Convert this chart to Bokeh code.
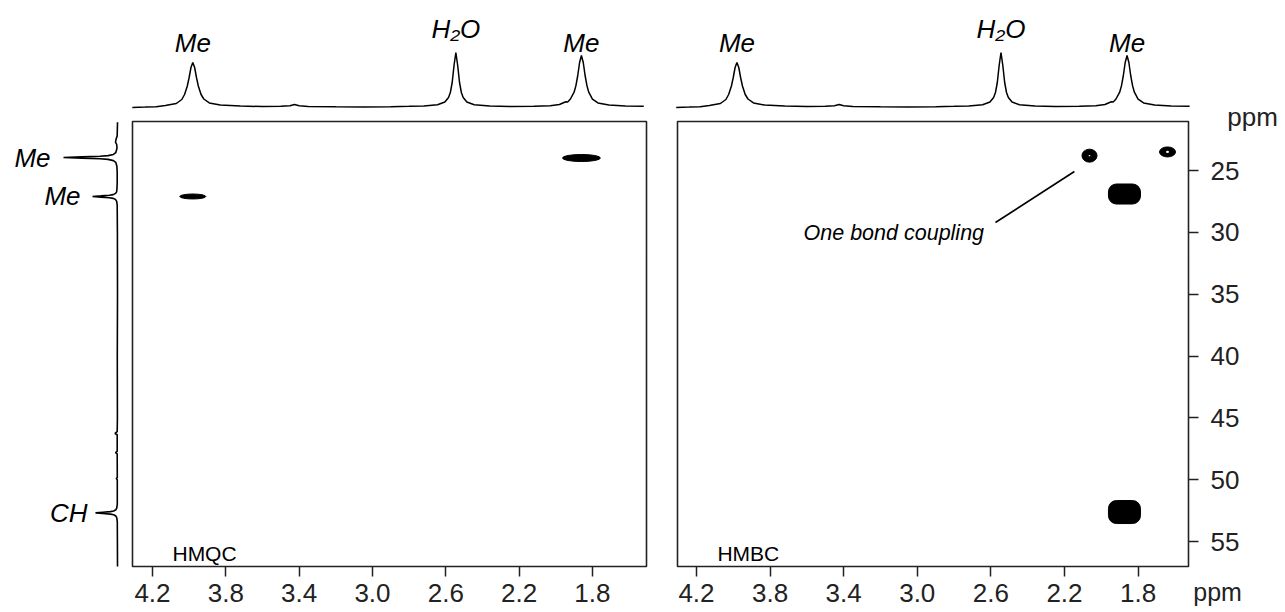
from bokeh.plotting import figure
from bokeh.layouts import row
from bokeh.models import Range1d, FixedTicker, PrintfTickFormatter
from bokeh.core.properties import value
from bokeh.embed import file_html
from bokeh.resources import INLINE

# ---------------- data ----------------
# 1H projection (ppm, intensity)
h_ppm = [4.31, 4.24, 4.18, 4.13, 4.07, 4.04, 4.025, 4.01, 4.00, 3.99, 3.98, 3.97, 3.96, 3.95,
         3.935, 3.92, 3.89, 3.83, 3.72, 3.60, 3.50, 3.45, 3.425, 3.40, 3.35, 3.20, 3.05, 2.90,
         2.80, 2.72, 2.645, 2.605, 2.585, 2.575, 2.565, 2.555, 2.545, 2.535, 2.525, 2.515,
         2.505, 2.485, 2.445, 2.36, 2.25, 2.12, 2.03, 1.98, 1.955, 1.945, 1.935, 1.92, 1.90,
         1.89, 1.88, 1.87, 1.86, 1.85, 1.84, 1.83, 1.82, 1.80, 1.77, 1.71, 1.62, 1.52]
h_int = [-1.0, -0.6, -0.2, 1.0, 3.0, 7.0, 12.0, 20.5, 29.0, 39.0, 44.0, 39.0, 29.0, 20.5,
         12.0, 7.5, 3.6, 1.5, 0.4, 0.0, 0.3, 0.8, 2.0, 0.7, 0.1, -0.3, -0.5, -0.2,
         0.2, 0.6, 1.8, 4.5, 9.0, 14.0, 24.0, 41.0, 54.0, 41.0, 24.0, 14.0,
         9.0, 4.5, 1.8, 0.5, 0.0, 0.2, 0.8, 2.0, 4.0, 4.8, 4.6, 7.5, 14.3,
         20.9, 31.0, 44.0, 51.0, 44.0, 31.0, 20.9, 14.3, 7.4, 3.6, 1.4, 0.5, 0.2]
h_labels = ["Me", "H\u2082O", "Me"]
h_label_ppm = [3.98, 2.545, 1.86]
h_label_int = [64, 78, 64]

# 13C projection (ppm, intensity)
c_ppm = [21.1, 22.2, 22.5, 22.7, 22.9, 23.2, 23.55, 23.7, 23.8, 23.85, 23.9, 23.95, 24.0,
         24.05, 24.1, 24.2, 24.35, 24.65, 25.2, 26.0, 26.4, 26.7, 26.85, 26.95, 27.0, 27.05,
         27.1, 27.15, 27.2, 27.25, 27.35, 27.5, 27.8, 30.0, 35.0, 40.0, 45.0, 46.1, 46.25,
         46.35, 47.7, 47.8, 47.9, 49.8, 49.9, 50.0, 51.97, 52.27, 52.42, 52.52, 52.57, 52.62,
         52.67, 52.72, 52.77, 52.82, 52.92, 53.07, 53.4, 55.0, 57.0]
c_int = [0.0, 0.3, 1.5, 2.0, 0.8, 0.5, 1.7, 4.1, 9.4, 17.5, 35.7, 54.0, 35.7,
         17.5, 9.4, 4.1, 1.7, 0.6, 0.3, 0.3, 0.5, 0.8, 1.9, 4.3, 8.1, 16.5,
         25.0, 16.5, 8.1, 4.3, 1.9, 0.8, 0.3, 0.1, 0.0, 0.2, 0.1, 0.3, 2.5,
         0.3, 0.3, 2.0, 0.3, 0.2, 1.2, 0.2, 0.2, 0.7, 1.7, 3.8, 7.1, 14.6,
         22.0, 14.6, 7.1, 3.8, 1.7, 0.7, 0.2, 0.1, 0.0]
c_labels = ["Me", "Me", "CH"]
c_label_ppm = [23.95, 27.1, 52.67]
c_label_int = [67, 37, 30]

# HMQC cross peaks
hmqc_h = [3.98, 1.86]
hmqc_c = [27.1, 23.99]
hmqc_w = [0.142, 0.207]
hmqc_hg = [0.40, 0.57]

# HMBC cross peaks
hmbc_ring_h = [2.064, 1.64]
hmbc_ring_c = [23.8, 23.5]
hmbc_ring_w = [0.082, 0.087]
hmbc_ring_hg = [1.05, 0.81]
hmbc_hole_w = [0.010, 0.016]
hmbc_hole_hg = [0.11, 0.18]
hmbc_blob_h = [1.874, 1.874]
hmbc_blob_c = [26.9, 52.6]
hmbc_blob_w = [0.174, 0.174]
hmbc_blob_hg = [1.62, 1.86]

x_ticks = [4.2, 3.8, 3.4, 3.0, 2.6, 2.2, 1.8]
y_ticks = [25, 30, 35, 40, 45, 50, 55]

# plot limits (box of each 2D panel)
C_TOP, C_BOT = 21.04, 57.0
QC_LEFT, QC_RIGHT = 4.309, 1.505
BC_LEFT, BC_RIGHT = 4.303, 1.526

# ---------------- layout constants ----------------
H = 610
FONT = value("Liberation Sans")
INK = "#222222"

y_range = Range1d(60.558, 11.2614)
spec_range = {"spec": Range1d(-504, 106)}


def base(p):
    p.outline_line_color = None
    p.grid.visible = False
    p.background_fill_color = "white"
    p.border_fill_color = "white"


def make_fig(width, xr, xaxis, yaxis):
    return figure(width=width, height=H, x_range=xr, y_range=y_range, output_backend="svg",
                  toolbar_location=None,
                  x_axis_location=("below" if xaxis else None),
                  y_axis_location=("right" if yaxis else None),
                  min_border_left=0, min_border_right=0, min_border_top=0, min_border_bottom=0)


def style_xaxis(p):
    ax = p.xaxis[0]
    ax.fixed_location = C_BOT
    ax.ticker = FixedTicker(ticks=x_ticks)
    ax.formatter = PrintfTickFormatter(format="%.1f")
    ax.axis_line_color = None
    ax.major_tick_out = 10
    ax.major_tick_in = 0
    ax.minor_tick_out = 0
    ax.minor_tick_in = 0
    ax.major_tick_line_width = 1.5
    ax.major_tick_line_color = INK
    ax.major_label_standoff = 8
    ax.major_label_text_font = "Liberation Sans"
    ax.major_label_text_font_size = "26px"
    ax.major_label_text_color = INK


# ---- left 13C projection ----
proj = make_fig(130, Range1d(117, -13), False, False)
base(proj)
proj.line(c_int, c_ppm, line_color="black", line_width=1.6)
proj.text(x=c_label_int, y=c_label_ppm, text=c_labels, text_font=FONT, text_font_size=value("26px"),
          text_font_style="italic", text_align="right", text_baseline="middle", text_color="black")


def panel(width, xr, yaxis, left, right):
    p = make_fig(width, xr, True, yaxis)
    p.extra_y_ranges = spec_range
    base(p)
    style_xaxis(p)
    p.line(h_ppm, h_int, y_range_name="spec", line_color="black", line_width=1.5)
    p.text(x=h_label_ppm, y=h_label_int, text=h_labels, y_range_name="spec", text_font=FONT,
           text_font_size=value("26px"), text_font_style="italic", text_align="center",
           text_baseline="middle", text_color="black")
    p.quad(left=[left], right=[right], top=[C_TOP], bottom=[C_BOT], fill_color=None,
           line_color=INK, line_width=1.6)
    return p


hmqc = panel(518, Range1d(4.3199, 1.4941), False, QC_LEFT, QC_RIGHT)
hmqc.ellipse(x=hmqc_h, y=hmqc_c, width=hmqc_w, height=hmqc_hg, fill_color="black", line_color="black")
hmqc.text(x=[4.091], y=[55.96], text=["HMQC"], text_font=FONT, text_font_size=value("21px"),
          text_align="left", text_baseline="middle", text_color="black")

hmbc = panel(635, Range1d(4.4606, 1.0097), True, BC_LEFT, BC_RIGHT)
hmbc.ellipse(x=hmbc_ring_h, y=hmbc_ring_c, width=hmbc_ring_w, height=hmbc_ring_hg,
             fill_color="black", line_color="black")
hmbc.ellipse(x=hmbc_ring_h, y=hmbc_ring_c, width=hmbc_hole_w, height=hmbc_hole_hg,
             fill_color="white", line_color=None)
hmbc.rect(x=hmbc_blob_h, y=hmbc_blob_c, width=hmbc_blob_w, height=hmbc_blob_hg,
          fill_color="black", line_color="black", border_radius=8)
hmbc.segment(x0=[2.575], y0=[29.20], x1=[2.146], y1=[25.08], line_color="black", line_width=1.6)
hmbc.text(x=[3.618], y=[30.09], text=["One bond coupling"], text_font=FONT,
          text_font_size=value("21.5px"), text_font_style="italic", text_align="left",
          text_baseline="middle", text_color="black")
hmbc.text(x=[4.086], y=[55.96], text=["HMBC"], text_font=FONT, text_font_size=value("21px"),
          text_align="left", text_baseline="middle", text_color="black")
# axis unit labels
hmbc.text(x=[1.178], y=[20.636], text=["ppm"], text_font=FONT,
          text_font_size=value("26px"), text_align="center", text_baseline="middle",
          text_color=INK)
hmbc.text(x=[1.368], y=[59.10], text=["ppm"], text_font=FONT,
          text_font_size=value("25px"), text_align="center", text_baseline="middle",
          text_color=INK)

ya = hmbc.yaxis[0]
ya.fixed_location = BC_RIGHT
ya.ticker = FixedTicker(ticks=y_ticks)
ya.axis_line_color = None
ya.major_tick_in = 0
ya.major_tick_out = 10
ya.minor_tick_in = 0
ya.minor_tick_out = 0
ya.major_tick_line_width = 1.5
ya.major_tick_line_color = INK
ya.major_label_standoff = 12
ya.major_label_text_font = "Liberation Sans"
ya.major_label_text_font_size = "26px"
ya.major_label_text_color = INK

layout = row(proj, hmqc, hmbc)
open("out.html", "w").write(file_html(layout, INLINE))
